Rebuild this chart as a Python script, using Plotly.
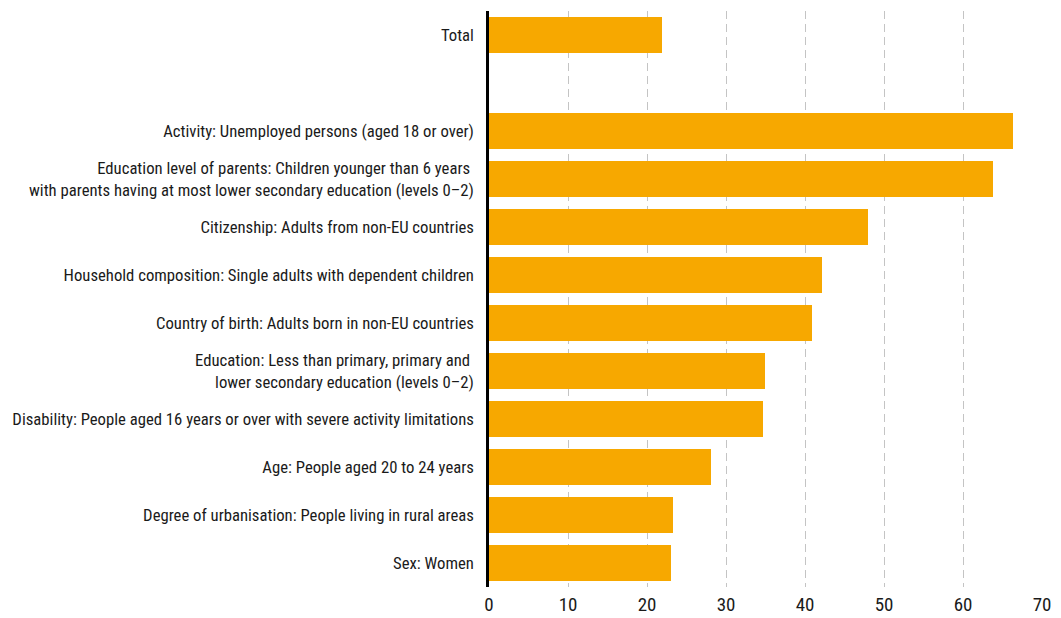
import plotly.graph_objects as go

categories = [
    "Total",
    "Activity: Unemployed persons (aged 18 or over)",
    "Education level of parents: Children younger than 6 years <br>with parents having at most lower secondary education (levels 0–2)",
    "Citizenship: Adults from non-EU countries",
    "Household composition: Single adults with dependent children",
    "Country of birth: Adults born in non-EU countries",
    "Education: Less than primary, primary and <br>lower secondary education (levels 0–2)",
    "Disability: People aged 16 years or over with severe activity limitations",
    "Age: People aged 20 to 24 years",
    "Degree of urbanisation: People living in rural areas",
    "Sex: Women",
]
values = [21.9, 66.3, 63.8, 48.0, 42.2, 40.9, 34.9, 34.7, 28.1, 23.3, 23.0]
positions = [11, 9, 8, 7, 6, 5, 4, 3, 2, 1, 0]
x_ticks = [0, 10, 20, 30, 40, 50, 60, 70]

FONT = "Roboto Condensed, DejaVu Sans Condensed, sans-serif"

fig = go.Figure(
    go.Bar(
        x=values,
        y=positions,
        orientation="h",
        marker=dict(color="#F7A800", line=dict(width=0)),
        width=0.73,
    )
)

fig.update_layout(
    width=1061,
    height=618,
    margin=dict(l=489, r=19, t=11, b=31),
    paper_bgcolor="white",
    plot_bgcolor="white",
    showlegend=False,
    font=dict(family=FONT, color="#1a1a1a"),
    bargap=0,
)

fig.update_xaxes(
    range=[0, 70],
    tickmode="array",
    tickvals=x_ticks,
    ticktext=[str(t) for t in x_ticks],
    tickfont=dict(size=19, family=FONT, color="#1a1a1a"),
    showgrid=True,
    gridcolor="#c4c4c4",
    gridwidth=1.3,
    griddash="8px,5px",
    zeroline=False,
    showline=False,
    ticks="",
    ticklabelstandoff=4,
    automargin=False,
)

fig.update_yaxes(
    range=[-0.5, 11.5],
    tickmode="array",
    tickvals=positions,
    ticktext=categories,
    tickfont=dict(size=16.7, family=FONT, color="#1a1a1a"),
    showgrid=False,
    zeroline=False,
    showline=True,
    linecolor="black",
    linewidth=2.5,
    ticks="",
    ticklabelstandoff=9,
    automargin=False,
)

fig.write_html("out.html", config={"displayModeBar": False},
               post_script="document.body.style.margin='0';")
